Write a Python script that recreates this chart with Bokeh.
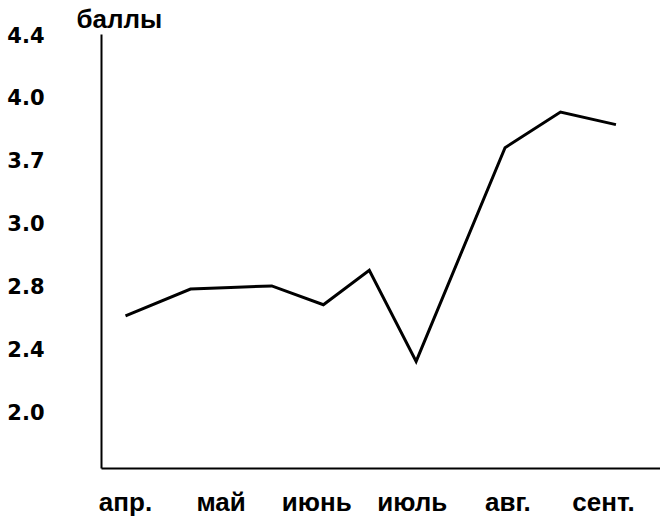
import numpy as np
from bokeh.plotting import figure
from bokeh.models import FixedTicker, Range1d, Title
from bokeh.embed import file_html
from bokeh.resources import INLINE

# Data
months = ["апр.", "май", "июнь", "июль", "авг.", "сент."]
y_tick_labels = ["2.0", "2.4", "2.8", "3.0", "3.7", "4.0", "4.4"]
y_tick_values = [2.0, 2.4, 2.8, 3.0, 3.7, 4.0, 4.4]
# observation times in month units (0 = апр.)
t_obs = [0.0, 0.68, 1.10, 1.53, 2.07, 2.55, 3.04, 3.97, 4.55, 5.13]
scores = [2.61, 2.78, 2.79, 2.80, 2.68, 2.85, 2.32, 3.76, 3.93, 3.87]

# the y axis has evenly spaced (non-linear) tick labels
y_pos = np.interp(scores, y_tick_values, np.arange(len(y_tick_values)))

p = figure(width=660, height=519, output_backend="svg", toolbar_location=None,
           x_range=Range1d(-0.251, 5.596), y_range=Range1d(-0.905, 6.0),
           min_border_left=101, min_border_right=0, min_border_top=0,
           min_border_bottom=0)
p.outline_line_color = None
p.xgrid.visible = False
p.ygrid.visible = False
p.background_fill_color = "white"
p.border_fill_color = "white"

p.line(t_obs, y_pos, line_color="black", line_width=3, line_join="miter")

p.xaxis.ticker = FixedTicker(ticks=list(range(len(months))))
p.xaxis.major_label_overrides = {i: m for i, m in enumerate(months)}
p.yaxis.ticker = FixedTicker(ticks=list(range(len(y_tick_labels))))
p.yaxis.major_label_overrides = {i: s for i, s in enumerate(y_tick_labels)}

for ax in (p.xaxis, p.yaxis):
    ax.axis_line_color = "black"
    ax.axis_line_width = 2
    ax.major_tick_line_color = None
    ax.minor_tick_line_color = None
    ax.major_tick_out = 0
    ax.major_tick_in = 0
    ax.minor_tick_out = 0
    ax.axis_label = None
    ax.axis_label_standoff = 0
    ax.major_label_text_font_style = "bold"
    ax.major_label_text_color = "black"

p.yaxis.major_label_text_font = "DejaVu Sans"
p.yaxis.major_label_text_font_size = "21px"
p.yaxis.major_label_standoff = 57

p.xaxis.major_label_text_font = "Liberation Sans"
p.xaxis.major_label_text_font_size = "26px"
p.xaxis.major_label_standoff = 18

p.add_layout(Title(text="баллы", align="left", offset=-25, standoff=2,
                   text_font="Liberation Sans", text_font_style="bold",
                   text_font_size="26px", text_color="black"), "above")

open("out.html", "w").write(file_html(p, INLINE))
